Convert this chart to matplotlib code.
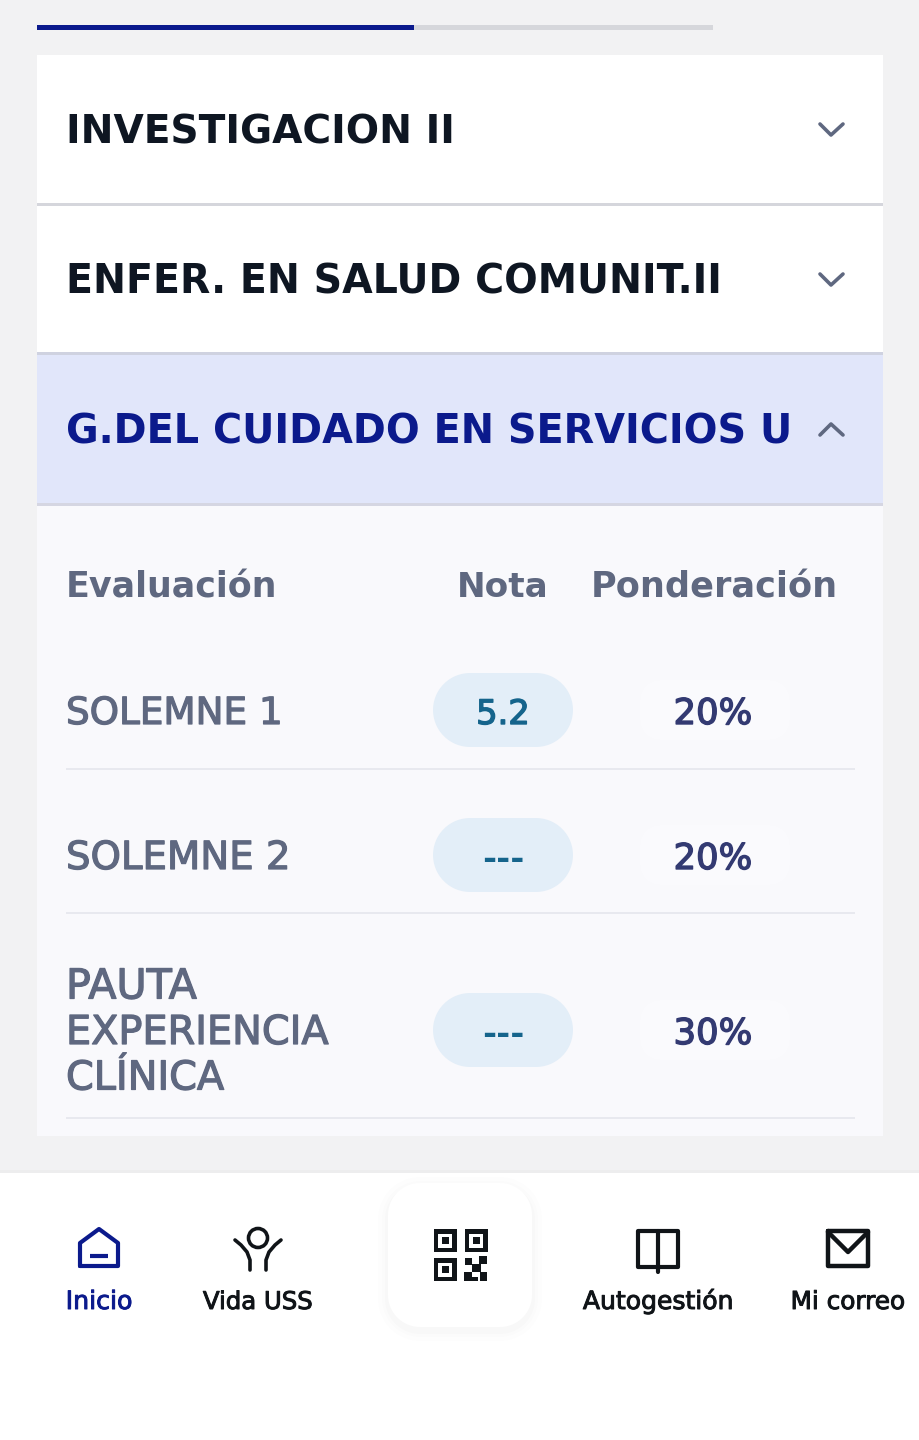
import numpy as np
import matplotlib
matplotlib.use("Agg")
import matplotlib.pyplot as plt
import matplotlib.patheffects as pe
from matplotlib.patches import Rectangle, Polygon, Circle
from matplotlib.lines import Line2D

plt.rcParams['font.family'] = ['DejaVu Sans']

# ---- content ----
courses = ["INVESTIGACION II", "ENFER. EN SALUD COMUNIT.II", "G.DEL CUIDADO EN SERVICIOS U"]
headers = ["Evaluación", "Nota", "Ponderación"]
evaluations = ["SOLEMNE 1", "SOLEMNE 2", "PAUTA\nEXPERIENCIA\nCLÍNICA"]
grades = ["5.2", "---", "---"]
weights = ["20%", "20%", "30%"]
nav_labels = ["Inicio", "Vida USS", "Autogestión", "Mi correo"]
progress_fraction = 0.557

# ---- colours ----
BG = "#f2f2f3"; NAVY = "#0b1a8c"; INK = "#0e1622"; GREY = "#5f6880"
LINE = "#d5d6dc"; ACTIVE = "#e1e6fa"; PANEL = "#f9f9fc"; PILL = "#e3eef8"
TEAL = "#15648c"; INDIGO = "#333a72"; ROWLINE = "#e8e9ef"; K = "#101418"

fig = plt.figure(figsize=(9.2, 14.4), dpi=100, facecolor=BG)
ax = fig.add_axes([0, 0, 1, 1])
ax.set_xlim(0, 920); ax.set_ylim(1440, 0); ax.axis("off")
rend = fig.canvas.get_renderer()


def label(x, y, s, width, size, color, weight="bold", ha="left", thick=0, z=6):
    """Baseline-anchored text; the width is matched through the font size."""
    t = ax.text(x, y, s, color=color, fontsize=size, fontweight=weight,
                ha=ha, va="baseline", zorder=z)
    if width:
        t.set_fontsize(size * width / t.get_window_extent(rend).width)
    if thick:
        t.set_path_effects([pe.withStroke(linewidth=thick, foreground=color)])
    return t


def rect(x0, y0, x1, y1, color, z=1):
    ax.add_patch(Rectangle((x0, y0), x1 - x0, y1 - y0, fc=color, ec="none", zorder=z))


def rrect(x0, y0, x1, y1, r, color, z=2, alpha=None):
    a = np.linspace(0, np.pi / 2, 16)
    corners = [(x1 - r, y1 - r, a), (x0 + r, y1 - r, a + np.pi / 2),
               (x0 + r, y0 + r, a + np.pi), (x1 - r, y0 + r, a + 1.5 * np.pi)]
    pts = [(cx + r * np.cos(t), cy + r * np.sin(t)) for cx, cy, arc in corners for t in arc]
    ax.add_patch(Polygon(pts, closed=True, fc=color, ec="none", zorder=z, alpha=alpha))


def stroke(xs, ys, color, lw=2.6, z=5, cap="round", join="round"):
    ax.add_line(Line2D(xs, ys, color=color, lw=lw, zorder=z,
                       solid_capstyle=cap, solid_joinstyle=join))


# progress bar
track_x0, track_x1 = 37, 713
rect(track_x0, 25, track_x1, 30, "#d6d7db")
rect(track_x0, 25, track_x0 + (track_x1 - track_x0) * progress_fraction, 30, NAVY, 2)

# accordion
rect(37, 55, 883, 203, "white")
rect(37, 203, 883, 206, LINE)
rect(37, 206, 883, 352, "white")
rect(37, 352, 883, 355, "#cfd2e0")
rect(37, 355, 883, 503, ACTIVE)
rect(37, 503, 883, 506, "#d5d6e2")
rect(37, 506, 883, 1136, PANEL)

course_y = [144, 294, 444]
course_w = [389, 658, 726]
course_c = [INK, INK, NAVY]
for name, y, w, c in zip(courses, course_y, course_w, course_c):
    label(66, y, name, w, 28, c)
for y in (129, 279):
    stroke([820, 831, 843], [y - 5, y + 6, y - 5], GREY, lw=2.6)
stroke([820, 831, 843], [435, 424, 435], GREY, lw=2.6)

# table header
label(66, 597, headers[0], 212, 24, GREY)
label(503, 597, headers[1], 92, 24, GREY, ha="center")
label(714, 597, headers[2], 247, 24, GREY, ha="center")

# table rows
row_y = [710, 855, 1030]
row_rule = [769, 913, 1118]
eval_w = [217, 225, None]
part_w = [131, 263, 158]
for s, g, p, y, ry, w in zip(evaluations, grades, weights, row_y, row_rule, eval_w):
    if "\n" in s:
        for i, (part, pw) in enumerate(zip(s.split("\n"), part_w)):
            label(66, y + 14 + (i - 1) * 45.5, part, pw, 24, GREY, weight="normal", thick=0.9)
    else:
        label(66, y + 14, s, w, 24, GREY, weight="normal", thick=0.9)
    rrect(433, y - 37, 573, y + 37, 37, PILL)
    rrect(640, y - 30, 790, y + 30, 20, "#fafafd")
    if g == "---":
        label(503, y + 14, g, 42, 24, TEAL, ha="center")
    else:
        label(503, y + 14, g, 54, 24, TEAL, weight="normal", ha="center", thick=1.0)
    label(713, y + 14, p, 79, 24, INDIGO, weight="normal", ha="center", thick=1.0)
    rect(66, ry - 1, 855, ry + 1, ROWLINE, 3)

# bottom bar
rect(0, 1173, 920, 1440, "white", 3)
rect(0, 1170, 920, 1173, "#ededee", 3)
for pad, al in zip([10, 6, 3], [0.006, 0.008, 0.010]):
    rrect(388 - pad, 1183 - pad + 4, 532 + pad, 1327 + pad + 4, 32 + pad, "black", z=3.5, alpha=al)
rrect(388, 1183, 532, 1327, 32, "white", z=4)

nav_x = [99, 258, 658, 848]
nav_w = [67, 110, 151, 115]
nav_c = [NAVY, K, K, K]
for s, x, w, c in zip(nav_labels, nav_x, nav_w, nav_c):
    label(x, 1309, s, w, 16, c, weight="normal", ha="center", thick=0.7)

# home icon
stroke([80, 80, 99, 118, 118, 80], [1266, 1243, 1229, 1243, 1266, 1266], NAVY, lw=3)
stroke([90, 108], [1256, 1256], NAVY, lw=3, cap="butt")

# Vida USS icon
ax.add_patch(Circle((258, 1238), 9.5, fc="none", ec=K, lw=2.6, zorder=5))
stroke([235, 241, 247, 250, 250], [1240, 1245, 1252, 1260, 1270], K)
stroke([281, 275, 269, 266, 266], [1240, 1245, 1252, 1260, 1270], K)

# QR icon
for qx, qy in [(434, 1229), (465, 1229), (434, 1258)]:
    rect(qx, qy, qx + 23, qy + 23, K, 5)
    rect(qx + 4.5, qy + 4.5, qx + 18.5, qy + 18.5, "white", 5.1)
    rect(qx + 8, qy + 8, qx + 15, qy + 15, K, 5.2)
for qx0, qy0, qx1, qy1 in [(465, 1258, 472, 1265), (479, 1256, 487, 1264), (472, 1264, 481, 1272),
                           (464, 1272, 472, 1281), (480, 1272, 487, 1281), (472, 1277, 478, 1281)]:
    rect(qx0, qy0, qx1, qy1, K, 5)

# book icon
stroke([658, 638, 638, 658, 678, 678, 658], [1231, 1231, 1267, 1267, 1267, 1231, 1231], K, lw=3)
stroke([658, 658], [1231, 1272], K, lw=3)

# mail icon
stroke([828, 868, 868, 828, 828], [1231, 1231, 1266, 1266, 1231], K, lw=3.2)
stroke([828, 848, 868], [1232, 1252, 1232], K, lw=3.2)

fig.savefig("out.png", dpi=100, facecolor=BG)
